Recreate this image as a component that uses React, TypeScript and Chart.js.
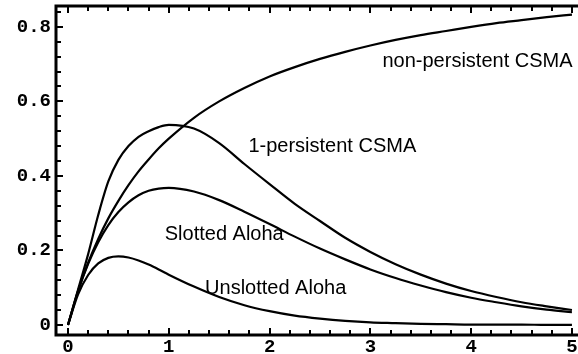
import React, { useEffect, useRef } from "react";
import { Chart, registerables } from "chart.js";

Chart.register(...registerables);

// Offered load G (x axis)
const G = [0, 0.1, 0.2, 0.3, 0.4, 0.5, 0.6, 0.7, 0.8, 0.9, 1, 1.25, 1.5, 1.75, 2, 2.25, 2.5, 2.75, 3, 3.25, 3.5, 3.75, 4, 4.25, 4.5, 4.75, 5];

// Throughput S for each protocol
const nonPersistentCSMA = [0, 0.091, 0.167, 0.231, 0.286, 0.333, 0.375, 0.412, 0.444, 0.474, 0.5, 0.556, 0.6, 0.636, 0.667, 0.692, 0.714, 0.733, 0.75, 0.765, 0.778, 0.789, 0.8, 0.81, 0.818, 0.826, 0.833];
const onePersistentCSMA = [0, 0.095, 0.19, 0.295, 0.385, 0.443, 0.48, 0.505, 0.52, 0.531, 0.537, 0.527, 0.488, 0.432, 0.378, 0.325, 0.279, 0.234, 0.196, 0.163, 0.135, 0.111, 0.091, 0.075, 0.061, 0.05, 0.04];
const slottedAloha = [0, 0.091, 0.164, 0.222, 0.268, 0.303, 0.329, 0.348, 0.36, 0.366, 0.368, 0.358, 0.335, 0.304, 0.271, 0.237, 0.205, 0.176, 0.149, 0.126, 0.106, 0.088, 0.073, 0.061, 0.05, 0.041, 0.034];
const unslottedAloha = [0, 0.082, 0.134, 0.165, 0.18, 0.184, 0.181, 0.173, 0.162, 0.149, 0.135, 0.103, 0.075, 0.053, 0.037, 0.025, 0.017, 0.011, 0.007, 0.005, 0.003, 0.002, 0.001, 0.001, 0.001, 0, 0];

const seriesNames = ["non-persistent CSMA", "1-persistent CSMA", "Slotted Aloha", "Unslotted Aloha"];
const seriesValues = [nonPersistentCSMA, onePersistentCSMA, slottedAloha, unslottedAloha];

// Axis ticks
const xTicks = [0, 1, 2, 3, 4, 5];
const xTickLabels = ["0", "1", "2", "3", "4", "5"];
const yTicks = [0, 0.2, 0.4, 0.6, 0.8];
const yTickLabels = ["0", "0.2", "0.4", "0.6", "0.8"];

// In-plot curve labels, anchored in data coordinates (left edge, vertical middle)
const labelG = [3.12, 1.79, 0.96, 1.36];
const labelS = [0.706, 0.478, 0.242, 0.099];

const framePlugin = {
  id: "frameAndTicks",
  afterDatasetsDraw(chart: any) {
    const { ctx, chartArea } = chart;
    const xs = chart.scales.x;
    const ys = chart.scales.y;
    const { left, right, top, bottom } = chartArea;
    ctx.save();
    // curve labels
    ctx.fillStyle = "#000";
    ctx.font = '20px "Liberation Sans", Arial, sans-serif';
    ctx.textBaseline = "middle";
    ctx.textAlign = "left";
    seriesNames.forEach((name, i) => {
      ctx.fillText(name, xs.getPixelForValue(labelG[i]), ys.getPixelForValue(labelS[i]));
    });
    // frame
    ctx.strokeStyle = "#000";
    ctx.lineWidth = 3;
    ctx.lineCap = "square";
    ctx.beginPath();
    ctx.moveTo(right + 2, top);
    ctx.lineTo(left, top);
    ctx.lineTo(left, bottom);
    ctx.lineTo(right + 2, bottom);
    ctx.stroke();
    // ticks
    ctx.lineWidth = 2;
    ctx.lineCap = "butt";
    ctx.beginPath();
    for (let i = 0; i <= 25; i++) {
      const px = Math.round(xs.getPixelForValue(i / 5));
      const len = i % 5 === 0 ? 7 : 5;
      ctx.moveTo(px, bottom);
      ctx.lineTo(px, bottom - len);
      ctx.moveTo(px, top);
      ctx.lineTo(px, top + len);
    }
    for (let i = 0; i <= 21; i++) {
      const py = Math.round(ys.getPixelForValue(i * 0.04));
      const len = i % 5 === 0 ? 7 : 5;
      ctx.moveTo(left, py);
      ctx.lineTo(left + len, py);
    }
    ctx.stroke();
    ctx.restore();
  },
};

export default function App() {
  const ref = useRef<HTMLCanvasElement | null>(null);
  useEffect(() => {
    if (!ref.current) return;
    const tickFont = { family: '"Liberation Mono", "Courier New", monospace', weight: "bold" as const, size: 19 };
    const chart = new Chart(ref.current, {
      type: "line",
      data: {
        datasets: seriesValues.map((vals, k) => ({
          label: seriesNames[k],
          data: G.map((g, i) => ({ x: g, y: vals[i] })),
          borderColor: "#000",
          backgroundColor: "#000",
          borderWidth: 2.2,
          pointRadius: 0,
          fill: false,
          cubicInterpolationMode: "monotone" as const,
        })),
      },
      options: {
        responsive: false,
        animation: false,
        devicePixelRatio: 1,
        layout: { padding: { top: 6, left: 0, right: 0, bottom: 0 } },
        plugins: { legend: { display: false }, tooltip: { enabled: false } },
        scales: {
          x: {
            type: "linear",
            min: -0.119,
            max: 5.06,
            afterBuildTicks: (s: any) => {
              s.ticks = xTicks.map((v) => ({ value: v }));
            },
            afterFit: (s: any) => {
              s.height = 19;
              s.paddingLeft = 0;
              s.paddingRight = 0;
            },
            grid: { display: false, drawTicks: false },
            border: { display: false },
            ticks: {
              font: tickFont,
              color: "#000",
              padding: 1,
              maxRotation: 0,
              autoSkip: false,
              callback: (v: any) => xTickLabels[xTicks.indexOf(Number(v))] ?? "",
            },
          },
          y: {
            type: "linear",
            min: -0.027,
            max: 0.856,
            afterBuildTicks: (s: any) => {
              s.ticks = yTicks.map((v) => ({ value: v }));
            },
            afterFit: (s: any) => {
              s.width = 56;
              s.paddingTop = 0;
              s.paddingBottom = 0;
            },
            grid: { display: false, drawTicks: false },
            border: { display: false },
            ticks: {
              font: tickFont,
              color: "#000",
              padding: 5,
              autoSkip: false,
              callback: (v: any) => {
                const idx = yTicks.findIndex((t) => Math.abs(t - Number(v)) < 1e-9);
                return idx >= 0 ? yTickLabels[idx] : "";
              },
            },
          },
        },
      },
      plugins: [framePlugin],
    });
    return () => chart.destroy();
  }, []);
  return (
    <div style={{ position: "absolute", left: 0, top: 0, width: 578, height: 354, background: "#fff" }}>
      <canvas ref={ref} width={578} height={354} style={{ display: "block" }} />
    </div>
  );
}
